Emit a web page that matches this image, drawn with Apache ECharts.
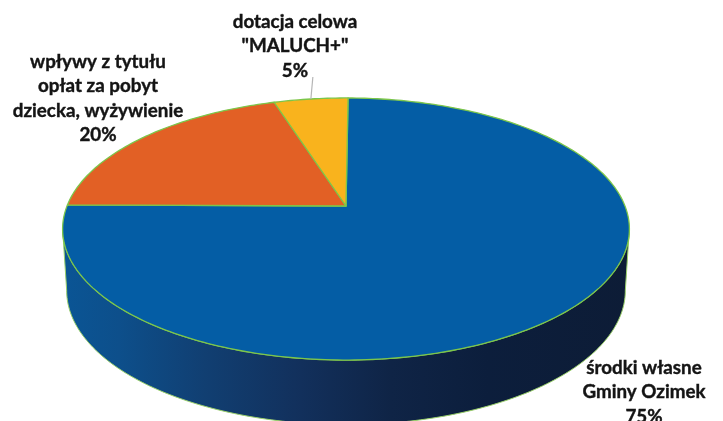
<!DOCTYPE html>
<html>
<head>
<meta charset="utf-8">
<style>html,body{margin:0;padding:0;background:#fff;overflow:hidden}#c{width:723px;height:421px}</style>
<script src="https://cdn.jsdelivr.net/npm/echarts@6/dist/echarts.min.js"></script>
</head>
<body>
<div id="c"></div>
<script>
const categories = ['środki własne\nGminy Ozimek', 'wpływy z tytułu\nopłat za pobyt\ndziecka, wyżywienie', 'dotacja celowa\n"MALUCH+"'];
const shares = [75, 20, 5];
const sliceColors = ['#045da5', '#e26025', '#f9b31d'];

// projected disc: a circle seen in perspective
const TOP = {cx: 346, cy: 206, X: 279, Y: 127, k: 0.1756};
const BASE = {cx: 346, cy: 267, X: 275, Y: 130, k: 0.1756};
const START_DEG = 0.5;
const EDGE = '#7cc64a';
const rad = d => d * Math.PI / 180;
function project(d, t) {
  const u = Math.sin(rad(d)), v = Math.cos(rad(d)), w = 1 + t.k * v;
  return [t.cx + t.X * u / w, t.cy - t.Y * v / w];
}
function rim(from, to, t) {
  const n = Math.max(2, Math.ceil(Math.abs(to - from))), out = [];
  for (let i = 0; i <= n; i++) out.push(project(from + (to - from) * i / n, t));
  return out;
}
const total = shares.reduce((a, b) => a + b, 0);
function sliceRange(i) {
  let s = 0;
  for (let j = 0; j < i; j++) s += shares[j];
  return [START_DEG + s / total * 360, START_DEG + (s + shares[i]) / total * 360];
}

const labelPos = [[644, 368], [98, 62], [295, 22]];
const labelLineStep = 24.4;

const chart = echarts.init(document.getElementById('c'), null, {renderer: 'canvas'});
chart.setOption({
  animation: false,
  backgroundColor: '#fff',
  series: [
    { // side wall
      type: 'custom', coordinateSystem: 'none', silent: true, z: 1,
      data: [0],
      renderItem() {
        const points = rim(100, 260, BASE).concat(rim(260, 100, TOP));
        return {
          type: 'polygon',
          shape: {points},
          style: {
            fill: new echarts.graphic.LinearGradient(0, 0, 1, 0, [
              {offset: 0, color: '#0a5595'},
              {offset: 0.1, color: '#0d4f8b'},
              {offset: 0.25, color: '#113f72'},
              {offset: 0.42, color: '#12305c'},
              {offset: 0.58, color: '#0f2446'},
              {offset: 0.75, color: '#0c1e3c'},
              {offset: 1, color: '#0d1c36'}
            ]),
            stroke: '#9ad06a', lineWidth: 1
          }
        };
      }
    },
    { // top-face slices
      type: 'custom', coordinateSystem: 'none', silent: true, z: 2,
      data: shares.map((v, i) => [i, v]),
      renderItem(params, api) {
        const i = api.value(0);
        const [a, b] = sliceRange(i);
        return {
          type: 'polygon',
          shape: {points: [[TOP.cx, TOP.cy]].concat(rim(a, b, TOP))},
          style: {fill: sliceColors[i], stroke: EDGE, lineWidth: 1.3, lineJoin: 'round'}
        };
      }
    },
    { // labels and leader
      type: 'custom', coordinateSystem: 'none', silent: true, z: 3,
      data: shares.map((v, i) => [i, v]),
      renderItem(params, api) {
        const i = api.value(0);
        const children = [];
        const lines = (categories[i] + '\n' + api.value(1) + '%').split('\n');
        lines.forEach((s, n) => children.push({
          type: 'text',
          style: {
            text: s, x: labelPos[i][0], y: labelPos[i][1] + n * labelLineStep,
            align: 'center', verticalAlign: 'middle',
            font: 'bold 18.8px Lato, sans-serif', fill: '#141414',
            stroke: '#141414', lineWidth: 0.4
          }
        }));
        if (i === 2) {
          const [a, b] = sliceRange(i);
          const p = project((a + b) / 2, TOP);
          children.push({type: 'line', shape: {x1: p[0], y1: p[1], x2: p[0] + 2, y2: p[1] - 22},
            style: {stroke: '#b5b5b5', lineWidth: 1.2}});
        }
        return {type: 'group', children};
      }
    }
  ]
});
</script>
</body>
</html>
